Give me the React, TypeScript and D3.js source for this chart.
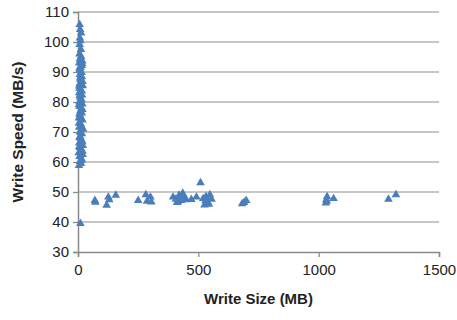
import React, { useEffect, useRef } from "react";
import * as d3 from "d3";

// small writes, the tall column near x = 0
const smallSizes = [
  4, 12, 8, 15, 7, 19, 3, 14, 8, 20, 5, 17, 11, 9, 16, 8, 21, 5, 13, 6,
  18, 4, 9, 16, 10, 15, 7, 18, 6, 14, 9, 17, 5, 12, 6, 20, 7, 15, 9, 16,
  8, 14, 7, 11, 16, 5, 18, 9, 13, 6, 14, 8, 19, 5, 17, 6, 12, 18, 5, 15,
  6, 18, 4, 13, 7, 16, 5, 19, 10, 14, 6, 17, 9, 12, 7, 10, 8, 13, 9, 7,
];
const smallSpeeds = [
  58.8, 59.5, 60.2, 61, 61.8, 62.5, 63.1, 64, 64.8, 65.5, 66.3, 67, 67.9, 68.6, 69.4, 70.1, 70.9, 71.6, 72.4, 73.2,
  74, 74.7, 75.5, 76.3, 77, 77.8, 78.5, 79.3, 80.1, 80.8, 81.6, 82.3, 83.1, 83.9, 84.6, 85.4, 86.1, 86.9, 87.6, 88.4,
  89.2, 89.9, 90.7, 91.4, 92.2, 93, 93.7, 94.5, 95.2, 96, 60.5, 62, 63.6, 65.1, 66.7, 68.2, 69.8, 71.3, 72.9, 74.4,
  76, 77.5, 79.1, 80.6, 82.2, 83.7, 85.3, 86.8, 88.3, 89.8, 91.3, 92.8, 94.1, 97.5, 99.2, 100.4, 101.3, 103, 104.2, 105.8,
];

// larger writes
const largeSizes = [
  10, 70, 72, 119, 126, 130, 157, 250, 282, 287, 301, 305, 395, 407, 415, 420, 428, 435, 442, 450,
  412, 425, 438, 471, 492, 509, 520, 526, 532, 540, 548, 555, 530, 544, 682, 690, 699, 1030, 1032, 1035,
  1033, 1062, 1290, 1321,
];
const largeSpeeds = [
  39.5, 47.2, 46.6, 45.6, 48.3, 47.4, 48.9, 47.2, 49.1, 46.9, 48.3, 46.7, 48.3, 47.6, 46.8, 48.9, 47.2, 49.6, 48.1, 47.4,
  46.5, 47.9, 48.6, 47.5, 48.3, 53.1, 47.8, 45.7, 48.5, 46.4, 49.1, 47.6, 47.1, 45.9, 46.1, 46.5, 47.2, 46.3, 47.4, 48.4,
  46.9, 47.8, 47.6, 49.1,
];

const xTicks = [0, 500, 1000, 1500];
const yTicks = [30, 40, 50, 60, 70, 80, 90, 100, 110];

const W = 457;
const H = 320;
const margin = { top: 12, right: 18, bottom: 68, left: 78 };

export default function App() {
  const ref = useRef<SVGSVGElement>(null);

  useEffect(() => {
    const svg = d3.select(ref.current);
    svg.selectAll("*").remove();

    const width = W - margin.left - margin.right;
    const height = H - margin.top - margin.bottom;

    const x = d3.scaleLinear().domain([0, 1500]).range([0, width]);
    const y = d3.scaleLinear().domain([30, 110]).range([height, 0]);

    const g = svg.append("g").attr("transform", `translate(${margin.left},${margin.top})`);

    // gridlines
    g.selectAll(".grid")
      .data(yTicks.slice(1))
      .join("line")
      .attr("x1", 0)
      .attr("x2", width)
      .attr("y1", d => y(d))
      .attr("y2", d => y(d))
      .attr("stroke", "#b3b3b3")
      .attr("stroke-width", 1.3);

    const font = "'Liberation Sans', Arial, sans-serif";

    const yAxis = g.append("g").call(d3.axisLeft(y).tickValues(yTicks).tickSize(5).tickPadding(4));
    const xAxis = g
      .append("g")
      .attr("transform", `translate(0,${height})`)
      .call(d3.axisBottom(x).tickValues(xTicks).tickFormat(d3.format("d")).tickSize(5).tickPadding(7));

    [yAxis, xAxis].forEach(a => {
      a.attr("font-family", font).attr("font-size", 15);
      a.select(".domain").attr("stroke", "#8a8a8a").attr("stroke-width", 1.5);
      a.selectAll(".tick line").attr("stroke", "#8a8a8a").attr("stroke-width", 1.3);
      a.selectAll(".tick text").attr("fill", "#222");
    });

    const tri = d3.symbol().type(d3.symbolTriangle).size(32);

    const pts = [
      ...smallSizes.map((s, i) => [s, smallSpeeds[i]]),
      ...largeSizes.map((s, i) => [s, largeSpeeds[i]]),
    ];

    g.selectAll(".pt")
      .data(pts)
      .join("path")
      .attr("d", tri)
      .attr("transform", d => `translate(${x(d[0])},${y(d[1])})`)
      .attr("fill", "#4a7ebb");

    svg
      .append("text")
      .attr("x", margin.left + width / 2)
      .attr("y", 304)
      .attr("text-anchor", "middle")
      .attr("font-family", font)
      .attr("font-weight", "bold")
      .attr("font-size", 15)
      .attr("fill", "#222")
      .text("Write Size (MB)");

    svg
      .append("text")
      .attr("transform", `translate(23,${margin.top + height / 2}) rotate(-90)`)
      .attr("text-anchor", "middle")
      .attr("font-family", font)
      .attr("font-weight", "bold")
      .attr("font-size", 15.5)
      .attr("fill", "#222")
      .text("Write Speed (MB/s)");
  }, []);

  return (
    <svg
      ref={ref}
      width={W}
      height={H}
      style={{ position: "absolute", left: 0, top: 0, display: "block" }}
    />
  );
}
